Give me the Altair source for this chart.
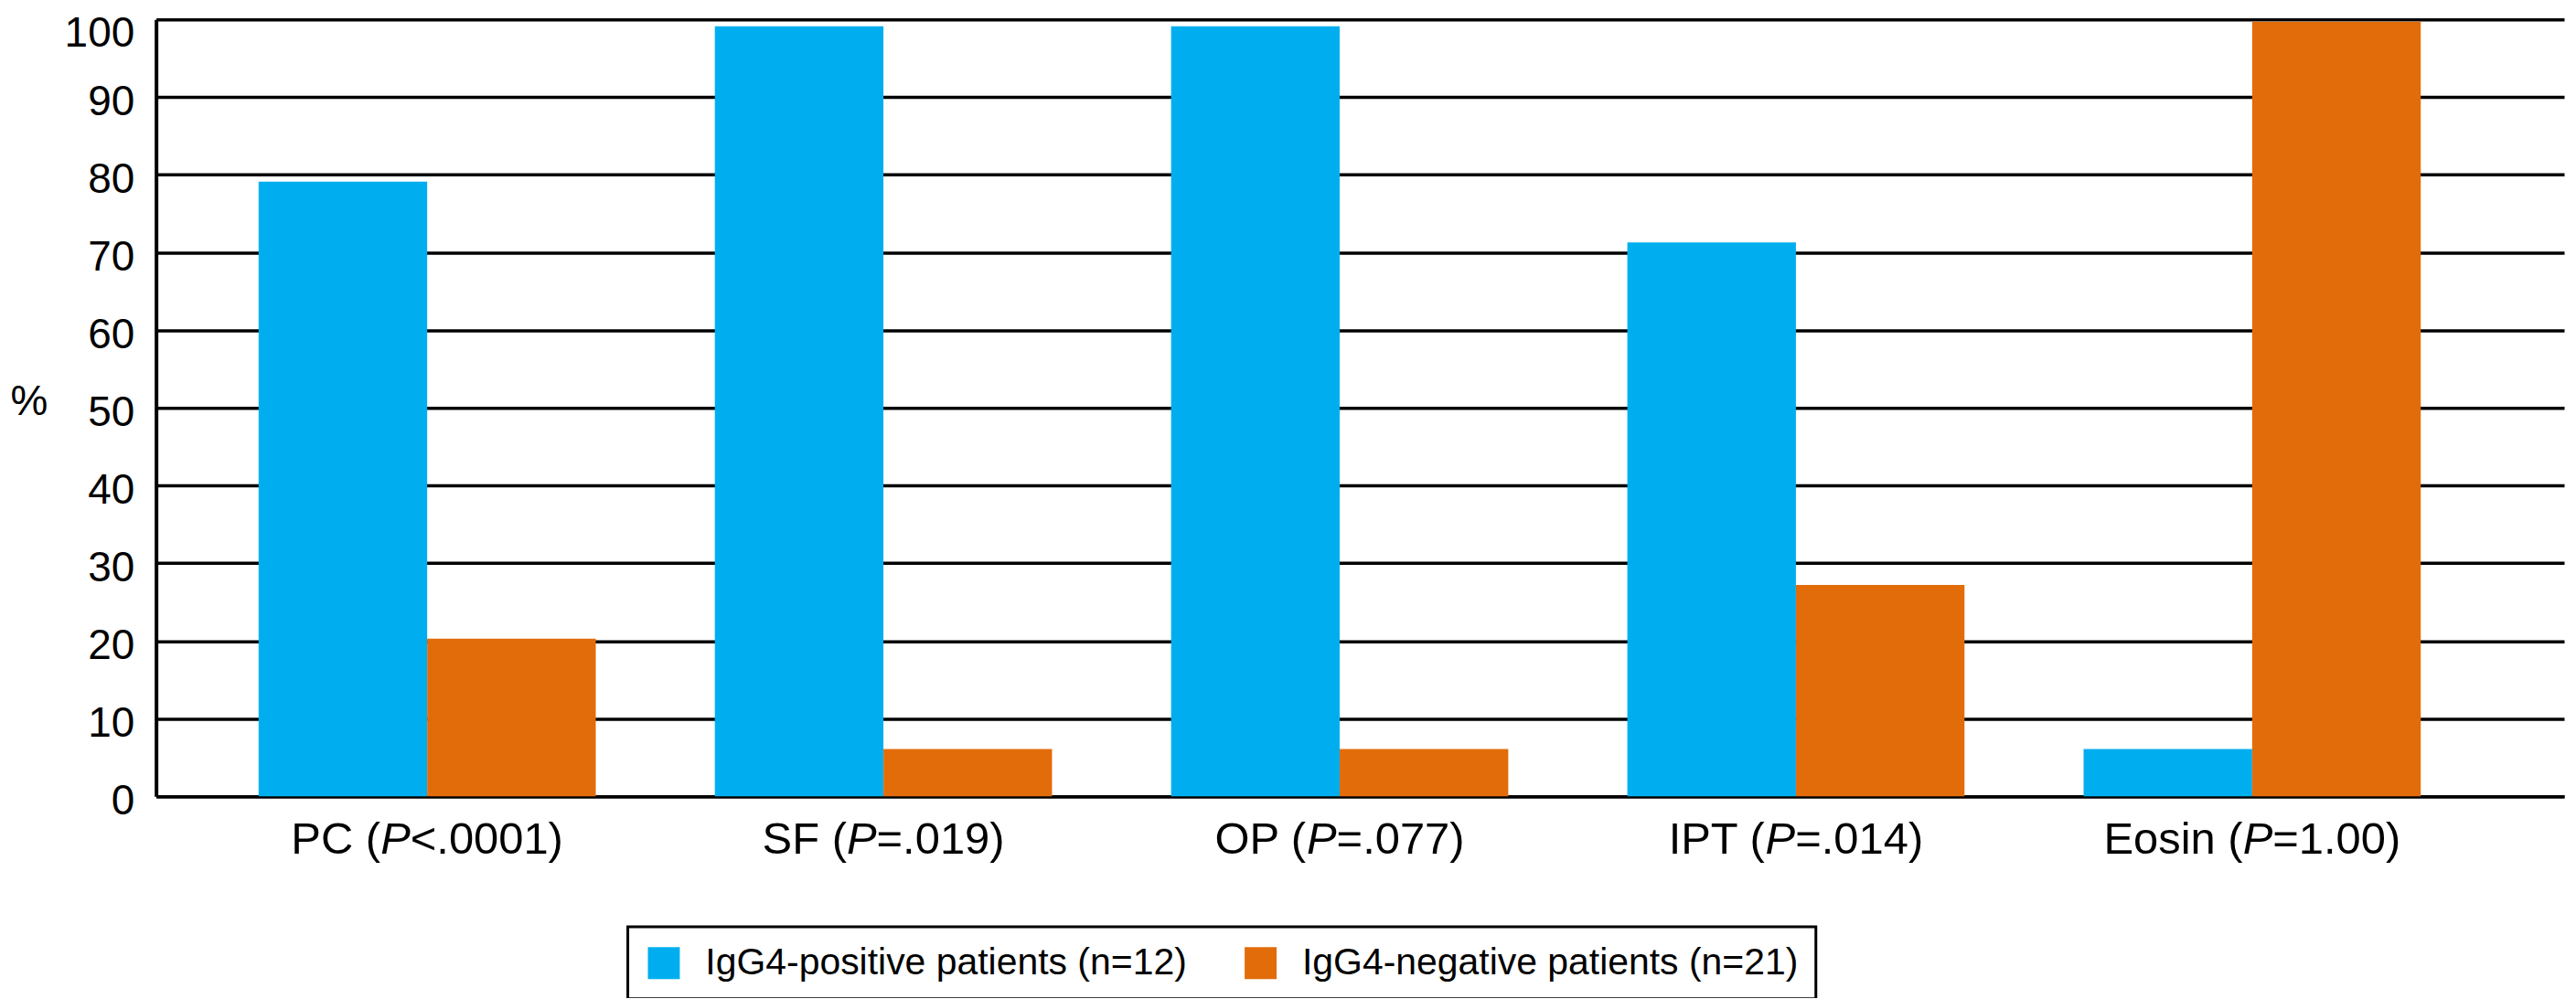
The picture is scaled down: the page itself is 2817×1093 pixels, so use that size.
import altair as alt
import pandas as pd

categories = ["PC (P<.0001)", "SF (P=.019)", "OP (P=.077)", "IPT (P=.014)", "Eosin (P=1.00)"]
positive = [79.1, 99.1, 99.1, 71.3, 6.1]
negative = [20.3, 6.1, 6.1, 27.2, 99.7]
series = ["IgG4-positive patients (n=12)", "IgG4-negative patients (n=21)"]
colors = ["#00AEEF", "#E36C0A"]
y_ticks = list(range(0, 101, 10))

rows = []
for c, p, n in zip(categories, positive, negative):
    rows.append({"category": c, "group": series[0], "value": p})
    rows.append({"category": c, "group": series[1], "value": n})
df = pd.DataFrame(rows)

FONT = "Liberation Sans"
LABEL_SIZE = 49

# Liberation Sans (Arial-metric) advance widths, per 1000 em, for typesetting the x labels
ADV = {" ": 278, "(": 333, ")": 333, "<": 584, "=": 584, ".": 278, "P": 667, "C": 722,
       "S": 667, "F": 611, "O": 778, "I": 278, "T": 611, "E": 667, "o": 556, "s": 500,
       "i": 222, "n": 556}
for d in "0123456789":
    ADV[d] = 556


def text_width(s):
    return sum(ADV.get(ch, 556) for ch in s) * LABEL_SIZE / 1000.0


x_scale = alt.Scale(paddingInner=0.261, paddingOuter=0.2695, align=0.417)

bars = alt.Chart(df).mark_bar().encode(
    x=alt.X("category:N", sort=categories, scale=x_scale,
            axis=alt.Axis(title=None, labels=False, ticks=False, domain=True,
                          domainColor="black", domainWidth=3.5, grid=False)),
    xOffset=alt.XOffset("group:N", sort=series, scale=alt.Scale(paddingInner=0, paddingOuter=0)),
    y=alt.Y("value:Q", scale=alt.Scale(domain=[0, 100], nice=False),
            axis=alt.Axis(values=y_ticks, title="%", titleAngle=0, titleX=-160, titleY=419,
                          titleAlign="left", titleBaseline="middle", titleFontSize=46,
                          titleFontWeight="normal", titleFont=FONT, titleColor="black",
                          labelFontSize=46, labelFont=FONT, labelColor="black", labelPadding=24,
                          labelOffset={"condition": {"test": "datum.value == 100", "value": 15},
                                       "value": 5},
                          ticks=False, domainColor="black", domainWidth=4,
                          gridColor="black", gridWidth=3.5, gridOpacity=1)),
    color=alt.Color("group:N", sort=series, scale=alt.Scale(domain=series, range=colors),
                    legend=alt.Legend(title=None, orient="none", legendX=517, legendY=995,
                                      direction="horizontal", symbolType="square", symbolSize=1225,
                                      labelFontSize=41, labelFont=FONT, labelColor="black",
                                      labelLimit=2000, columnPadding=60, labelOffset=25, padding=19,
                                      strokeColor="black", fillColor="white", symbolStrokeWidth=0)),
)

layers = [bars]
for cat in categories:
    k = cat.index("(") + 1
    parts = [(cat[:k], "normal"), (cat[k], "italic"), (cat[k + 1:], "normal")]
    total = sum(text_width(p) for p, _ in parts)
    start = -total / 2.0
    for part, style in parts:
        layers.append(
            alt.Chart(pd.DataFrame({"category": [cat], "t": [part]})).mark_text(
                align="left", baseline="alphabetic", dx=start, dy=63,
                font=FONT, fontSize=LABEL_SIZE, fontStyle=style, color="black",
            ).encode(
                x=alt.X("category:N", sort=categories),
                y=alt.Y(datum=0),
                text="t:N",
            )
        )
        start += text_width(part)

chart = alt.layer(*layers).properties(
    width=2639, height=852,
    padding={"left": 163, "top": 12, "right": 5, "bottom": 220},
    autosize=alt.AutoSizeParams(type="none"),
).configure_view(stroke=None).configure_legend(strokeWidth=3)

chart.save("out.html", embed_options={"renderer": "svg", "actions": False})
